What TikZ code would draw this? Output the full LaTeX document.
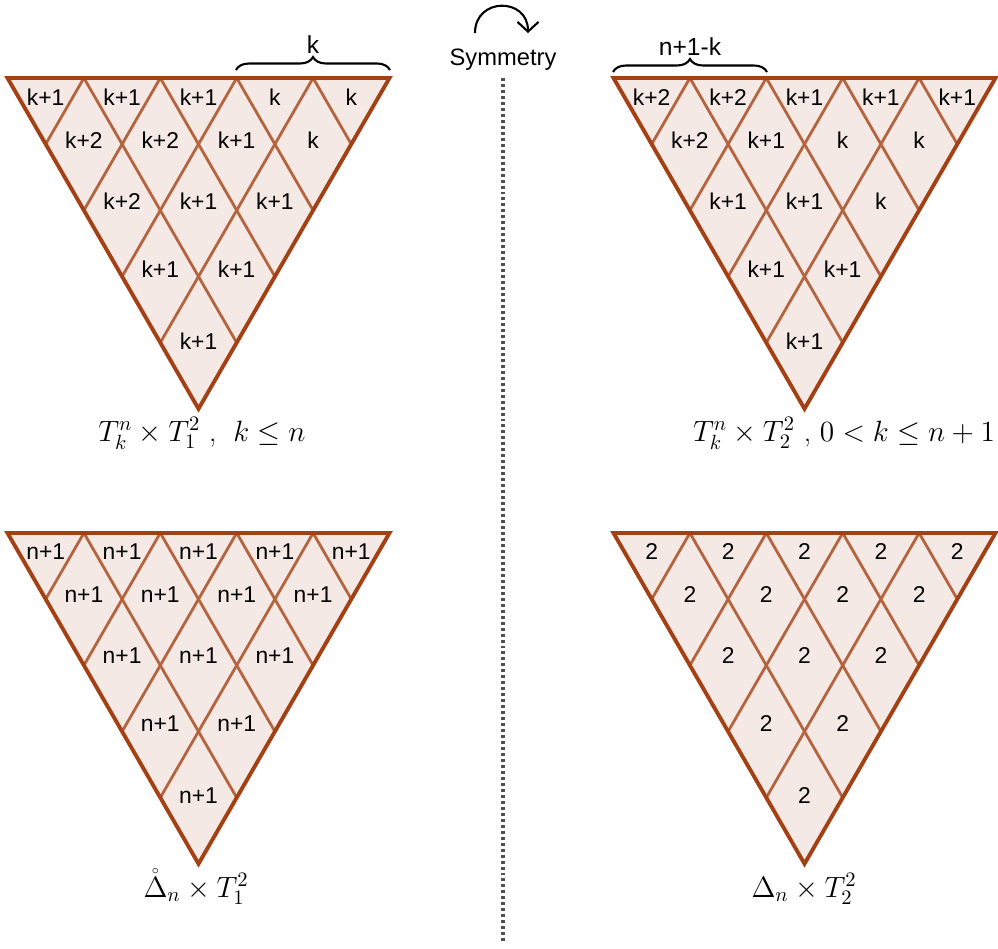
\RequirePackage{fix-cm}
\documentclass[tikz,border=0pt]{standalone}
\usepackage{amsmath}
\usepackage{fontspec}
\newfontfamily\cellfont{Liberation Sans}
\usetikzlibrary{arrows.meta,decorations.pathreplacing}
\definecolor{EdgeBrown}{RGB}{163,64,20}
\definecolor{GridBrown}{RGB}{181,100,64}
\definecolor{CellPink}{RGB}{244,233,228}
\definecolor{DotGray}{RGB}{80,80,80}

% inverted triangle cut into rhombi: #1 name, #2/#3 top-left corner, #4 label rows
\newcommand{\rhombtri}[4]{%
  \begin{scope}[shift={(#2,#3)}]
    \fill[tfill] (0,0) -- (382,0) -- (191,330.8) -- cycle;
    \foreach \i in {1,...,4} {
      \draw[tgrid] ({\i*76.4},0) -- ({\i*38.2},{\i*66.16});
      \draw[tgrid] ({\i*76.4},0) -- ({\i*76.4+(5-\i)*38.2},{(5-\i)*66.16});
    }
    \draw[tedge] (0,0) -- (382,0) -- (191,330.8) -- cycle;
    \foreach \rw/\dy/\row in {#4} {
      \foreach \lab [count=\cl from 0] in \row {
        \node[cellnum] (#1-\rw-\cl) at ({(\cl+\rw/2)*76.4},\dy) {\lab};
      }
    }
  \end{scope}}

\begin{document}
\begin{tikzpicture}[x=0.02cm, y=-0.02cm,
    tfill/.style={fill=CellPink},
    tedge/.style={draw=EdgeBrown, line width=2.2pt},
    tgrid/.style={draw=GridBrown, line width=1.6pt},
    cellnum/.style={font={\cellfont\fontsize{13}{15}\selectfont}, inner sep=0pt},
    tag/.style={font={\cellfont\fontsize{14}{16}\selectfont}},
    capt/.style={font={\fontsize{16.7}{19}\selectfont}, anchor=base},
    cbrace/.style={decorate, decoration={brace, amplitude=0.26cm}, line width=1.2pt},
    symarrow/.style={-{Straight Barb[length=5.5pt, width=12pt]}, line width=1.2pt},
    divider/.style={draw=DotGray, line width=2pt, dash pattern=on 1.7pt off 1.7pt}
  ]
  \useasboundingbox (0,0) rectangle (998,948);

  % the four triangles
  \rhombtri{tl}{7.5}{78}{1/19/{k+1,k+1,k+1,k,k},2/62/{k+2,k+2,k+1,k},3/123/{k+2,k+1,k+1},4/191/{k+1,k+1},5/263/{k+1}}
  \rhombtri{tr}{613.5}{78}{1/19/{k+2,k+2,k+1,k+1,k+1},2/62/{k+2,k+1,k,k},3/123/{k+1,k+1,k},4/191/{k+1,k+1},5/263/{k+1}}
  \rhombtri{bl}{7.5}{533}{1/19/{n+1,n+1,n+1,n+1,n+1},2/62/{n+1,n+1,n+1,n+1},3/123/{n+1,n+1,n+1},4/191/{n+1,n+1},5/263/{n+1}}
  \rhombtri{br}{613.5}{533}{1/19/{2,2,2,2,2},2/62/{2,2,2,2},3/123/{2,2,2},4/191/{2,2},5/263/{2}}

  % braces over the top rows
  \coordinate (kb1) at (236,70);
  \coordinate (kb2) at (390,70);
  \draw[cbrace] (kb1) -- (kb2) node[tag, midway, anchor=base, yshift=0.34cm] (klab) {k};
  \coordinate (nb1) at (613,72);
  \coordinate (nb2) at (767,72);
  \draw[cbrace] (nb1) -- (nb2) node[tag, midway, anchor=base, yshift=0.34cm] (nlab) {n+1-k};

  % symmetry mark and divider
  \node[tag, anchor=base, font={\cellfont\fontsize{13.5}{16}\selectfont}] (sym) at (503,65) {Symmetry};
  \coordinate (arcL) at (475,33);
  \coordinate (arcR) at (528,33);
  \draw[symarrow] (arcL) .. controls (475,-3) and (528,-3) .. (arcR);
  \coordinate (dtop) at (503,78);
  \coordinate (dbot) at (503,942);
  \draw[divider] (dtop) -- (dbot);

  % captions
  \node[capt] (capA) at (202,441) {$T^n_k \times T^2_1$ ,\; $k \le n$};
  \node[capt] (capB) at (844,441) {$T^n_k \times T^2_2$ , $0 < k \le n+1$};
  \node[capt] (capC) at (196,897) {$\mathring{\Delta}_n \times T^2_1$};
  \node[capt] (capD) at (804,897) {$\Delta_n \times T^2_2$};
\end{tikzpicture}
\end{document}
